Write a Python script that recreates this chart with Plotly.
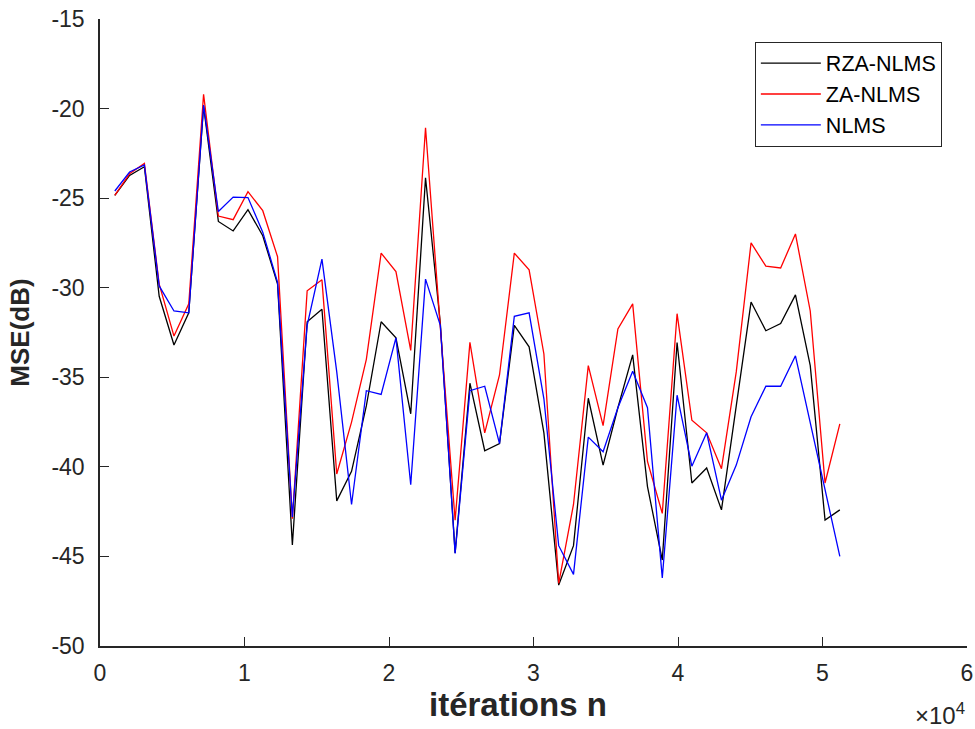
import plotly.graph_objects as go

# iteration index (block of 1024 samples)
iterations = [1024 * k for k in range(1, 51)]

rza_nlms = [-24.84, -23.73, -23.25, -30.48, -33.2, -31.4, -19.87, -26.3, -26.83, -25.64,
            -27.1, -29.8, -44.36, -31.9, -31.2, -41.9, -40.25, -36.6, -31.9, -32.8,
            -37.04, -23.86, -32.0, -44.8, -35.33, -39.1, -38.7, -32.1, -33.3, -38.1,
            -46.6, -44.4, -36.17, -39.9, -36.7, -33.75, -41.1, -45.2, -33.06, -40.9,
            -40.06, -42.4, -36.6, -30.8, -32.4, -32.0, -30.4, -34.35, -42.97, -42.4]

za_nlms = [-24.84, -23.64, -23.06, -29.8, -32.7, -30.9, -19.2, -26.0, -26.2, -24.64,
           -25.7, -28.27, -42.9, -30.17, -29.56, -40.4, -37.5, -34.0, -28.07, -29.1,
           -33.5, -21.07, -32.2, -42.98, -33.05, -38.1, -34.87, -28.07, -29.0, -33.7,
           -46.5, -42.1, -34.35, -37.7, -32.3, -30.9, -39.7, -42.6, -31.45, -37.4,
           -38.1, -40.1, -34.7, -27.5, -28.8, -28.9, -27.0, -31.3, -40.9, -37.6]

nlms = [-24.6, -23.54, -23.15, -29.9, -31.3, -31.4, -19.8, -25.75, -24.94, -24.97,
        -26.9, -29.7, -42.8, -32.1, -28.4, -34.7, -42.1, -35.75, -35.96, -32.8,
        -41.0, -29.52, -32.1, -44.83, -35.75, -35.5, -38.7, -31.6, -31.4, -36.2,
        -44.4, -46.0, -38.34, -39.16, -36.7, -34.66, -36.7, -46.2, -36.0, -39.96,
        -38.1, -41.86, -39.9, -37.2, -35.5, -35.5, -33.8, -37.6, -41.3, -45.0]

x_tickvals = [0, 10000, 20000, 30000, 40000, 50000, 60000]
x_ticktext = ["0", "1", "2", "3", "4", "5", "6"]
y_tickvals = [-50, -45, -40, -35, -30, -25, -20, -15]
y_ticktext = ["-50", "-45", "-40", "-35", "-30", "-25", "-20", "-15"]

FONT = "Liberation Sans, Arial, Helvetica, sans-serif"
AX = "#262626"

fig = go.Figure()
for name, ys, col in [("RZA-NLMS", rza_nlms, "#000000"),
                      ("ZA-NLMS", za_nlms, "#FF0000"),
                      ("NLMS", nlms, "#0000FF")]:
    fig.add_trace(go.Scatter(x=iterations, y=ys, mode="lines", name=name,
                             line=dict(color=col, width=1.3)))

fig.update_layout(
    width=975, height=729,
    margin=dict(l=100, r=8, t=19, b=83),
    paper_bgcolor="white", plot_bgcolor="white",
    font=dict(family=FONT, size=23, color=AX),
    showlegend=True,
    legend=dict(x=0.971, y=0.964, xanchor="right", yanchor="top",
                bgcolor="white", bordercolor=AX, borderwidth=1,
                font=dict(size=21.5, color="#000000"),
                tracegroupgap=0, itemwidth=60),
    xaxis=dict(range=[0, 60000], tickvals=x_tickvals, ticktext=x_ticktext,
               showgrid=False, zeroline=False, showline=True, linecolor=AX,
               linewidth=1.5, ticks="inside", ticklen=9, tickcolor=AX,
               tickfont=dict(size=23, color=AX), ticklabelstandoff=6,
               automargin=False),
    yaxis=dict(range=[-50, -15], tickvals=y_tickvals, ticktext=y_ticktext,
               showgrid=False, zeroline=False, showline=True, linecolor=AX,
               linewidth=1.5, ticks="inside", ticklen=9, tickcolor=AX,
               tickfont=dict(size=23, color=AX), ticklabelstandoff=9,
               automargin=False,
               title=dict(text="<b>MSE(dB)</b>", font=dict(size=26, color=AX),
                          standoff=14)),
)

# x-axis label
fig.add_annotation(text="<b>itérations n</b>", xref="paper", yref="paper",
                   x=0.482, y=-0.094, xanchor="center", yanchor="middle",
                   showarrow=False, font=dict(family=FONT, size=33, color=AX))

# exponent label
fig.add_annotation(text="×10<sup>4</sup>", xref="paper", yref="paper",
                   x=1.0, y=-0.108, xanchor="right", yanchor="middle",
                   showarrow=False, font=dict(family=FONT, size=24, color=AX))

fig.write_html("out.html")
